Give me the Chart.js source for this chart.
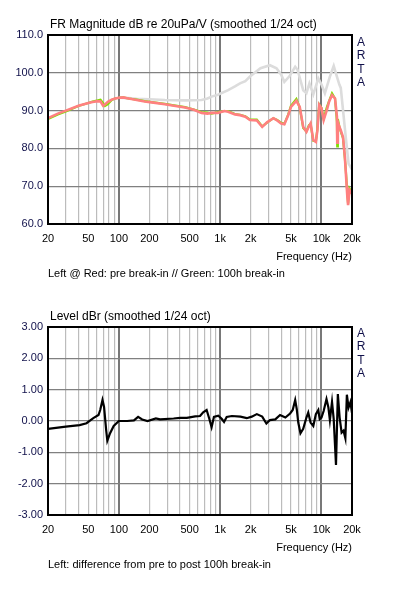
<!DOCTYPE html>
<html>
<head>
<meta charset="utf-8">
<script src="https://cdn.jsdelivr.net/npm/chart.js@4"></script>
<style>
  body { margin: 0; background: #fff; width: 400px; height: 589px; overflow: hidden; position: relative; }
  .box { position: absolute; left: 0; width: 400px; }
  .txt { position: absolute; font-family: "Liberation Sans", Arial, sans-serif; color: #000; white-space: nowrap; }
  .title { font-size: 12px; line-height: 14px; }
  .small { font-size: 11px; line-height: 13px; }
  .arta { font-size: 12px; line-height: 13.3px; color: #10104a; text-align: center; width: 10px; }
</style>
</head>
<body>
<div class="box" style="top:0;height:290px"><canvas id="frChart"></canvas></div>
<div class="box" style="top:290px;height:299px"><canvas id="diffChart"></canvas></div>

<div class="txt title" style="left:50px;top:17px">FR Magnitude dB re 20uPa/V (smoothed 1/24 oct)</div>
<div class="txt arta" style="left:356px;top:36px">A<br>R<br>T<br>A</div>
<div class="txt small" style="right:48px;top:250px">Frequency (Hz)</div>
<div class="txt small" style="left:48px;top:267px">Left @ Red: pre break-in // Green: 100h break-in</div>

<div class="txt title" style="left:50px;top:309px">Level dBr (smoothed 1/24 oct)</div>
<div class="txt arta" style="left:356px;top:327px">A<br>R<br>T<br>A</div>
<div class="txt small" style="right:48px;top:541px">Frequency (Hz)</div>
<div class="txt small" style="left:48px;top:558px">Left: difference from pre to post 100h break-in</div>

<script>
// frequency grid (Hz) and labelled ticks
const gridFreqs = [20, 30, 40, 50, 60, 70, 80, 90, 100, 200, 300, 400, 500, 600, 700, 800, 900,
  1000, 2000, 3000, 4000, 5000, 6000, 7000, 8000, 9000, 10000, 20000];
const decadeFreqs = [100, 1000, 10000];
const tickLabels = { 20: '20', 50: '50', 100: '100', 200: '200', 500: '500', 1000: '1k',
  2000: '2k', 5000: '5k', 10000: '10k', 20000: '20k' };

// FR magnitude, pre and post break-in (dB)
const freqTop = [20, 25, 30, 40, 50, 55, 62, 66, 70, 73, 78, 85, 92, 100, 110, 125, 150, 180, 220, 285,
  350, 450, 550, 655, 750, 823, 950, 1100, 1200, 1400, 1570, 1770, 1970, 2300, 2600, 2900, 3350, 3650,
  4000, 4300, 4700, 5000, 5650, 6100, 6600, 7100, 7500, 7800, 8300, 8800, 9100, 9500, 10000, 10500,
  11300, 11900, 12700, 13600, 14200, 14300, 14500, 15000, 15500, 16300, 17000, 17400, 18000, 18300,
  18900, 20000];
const preBreakIn = [88.0, 89.2, 90.0, 91.3, 92.0, 92.3, 92.5, 92.4, 91.3, 91.6, 92.3, 92.9, 93.2, 93.4,
  93.5, 93.2, 92.8, 92.4, 92.1, 91.7, 91.3, 90.8, 90.2, 89.4, 89.2, 89.4, 89.4, 89.9, 89.7, 89.0, 88.8,
  88.4, 87.5, 87.4, 85.7, 86.9, 88.0, 87.4, 86.6, 86.4, 88.8, 91.0, 92.6, 91.0, 85.7, 84.4, 85.8, 86.6,
  82.2, 81.7, 84.7, 91.5, 90.6, 87.5, 90.2, 92.4, 94.1, 93.2, 88.4, 81.5, 87.0, 85.7, 84.8, 83.0, 77.8,
  73.4, 67.2, 65.0, 69.0, 68.0];
const postBreakIn = [87.8, 89.0, 89.8, 91.2, 92.0, 92.4, 92.7, 92.9, 92.0, 91.2, 91.7, 92.8, 93.2, 93.4,
  93.5, 93.2, 92.9, 92.5, 92.2, 91.8, 91.4, 90.9, 90.3, 89.6, 89.5, 89.2, 89.6, 89.9, 89.9, 89.1, 88.9,
  88.5, 87.6, 87.6, 85.8, 86.8, 88.0, 87.5, 86.8, 86.5, 89.0, 91.3, 93.1, 90.8, 85.4, 84.5, 86.1, 86.5,
  82.0, 81.9, 85.0, 91.6, 90.7, 87.8, 90.9, 92.6, 94.6, 93.2, 87.0, 80.5, 87.8, 85.8, 84.4, 82.7, 77.4,
  74.0, 68.0, 65.4, 69.4, 68.2];

// grey reference trace (dB)
const freqRef = [100, 125, 150, 200, 285, 450, 655, 750, 823, 950, 1200, 1400, 1570, 1770, 1970, 2500,
  3100, 3600, 4000, 4300, 4800, 5500, 5800, 6600, 7100, 7600, 8300, 9300, 10000, 10800, 12100, 13200,
  14000, 15000, 15500, 16300, 17200, 18500, 20000];
const refCurve = [93.4, 93.3, 93.1, 93.0, 92.8, 92.7, 92.8, 93.2, 93.7, 94.2, 95.4, 96.4, 97.2, 97.8,
  99.0, 101.2, 102.0, 101.2, 99.5, 97.6, 99.0, 101.6, 100.8, 95.4, 94.6, 97.2, 94.3, 98.5, 96.9, 94.6,
  99.0, 101.8, 99.5, 96.9, 96.0, 90.2, 84.0, 76.0, 74.4];

// level difference pre -> post (dBr)
const freqDiff = [20, 30, 41, 48, 56, 63, 65.5, 69, 71.5, 75, 77, 82, 89, 100, 121, 141, 155, 170, 192,
  232, 255, 347, 403, 469, 567, 633, 680, 735, 780, 823, 868, 958, 1035, 1092, 1160, 1305, 1585, 1830,
  2050, 2300, 2600, 2860, 3100, 3500, 3900, 4400, 4900, 5200, 5500, 5700, 5900, 6200, 6600, 7100, 7400,
  7800, 8300, 8800, 9300, 9600, 10000, 10500, 11200, 11700, 12100, 12700, 13200, 13900, 14500, 15100,
  15800, 16500, 17200, 17800, 18500, 19300, 20000];
const diffLevel = [-0.25, -0.18, -0.13, -0.07, 0.09, 0.19, 0.35, 0.67, 0.45, -0.29, -0.63, -0.39, -0.16,
  0.0, 0.0, 0.02, 0.13, 0.05, 0.0, 0.08, 0.05, 0.08, 0.1, 0.1, 0.15, 0.16, 0.28, 0.35, 0.08, -0.2, 0.13,
  0.17, 0.07, -0.03, 0.13, 0.16, 0.14, 0.09, 0.14, 0.22, 0.14, -0.08, 0.03, 0.05, 0.19, 0.11, 0.24, 0.35,
  0.67, 0.38, -0.05, -0.39, -0.25, 0.11, 0.27, -0.05, -0.16, 0.22, 0.35, 0.06, 0.11, 0.32, 0.7, 0.43,
  0.03, 0.61, 0.06, -1.4, 0.86, 0.11, -0.37, -0.31, -0.55, 0.84, 0.43, 0.6, 0.25];

const pts = (xs, ys) => xs.map((x, i) => ({ x: x, y: ys[i] }));

// black frame round the plot area
const framePlugin = {
  id: 'frame',
  afterDraw(chart) {
    const a = chart.chartArea;
    const ctx = chart.ctx;
    ctx.save();
    ctx.strokeStyle = '#000';
    ctx.lineWidth = 2;
    ctx.strokeRect(a.left, a.top, a.right - a.left, a.bottom - a.top);
    ctx.restore();
  }
};

function freqAxis(height) {
  return {
    type: 'logarithmic',
    min: 20,
    max: 20000,
    afterBuildTicks: (scale) => { scale.ticks = gridFreqs.map(v => ({ value: v })); },
    afterFit: (scale) => { scale.height = height; },
    border: { display: false },
    grid: {
      drawTicks: false,
      lineWidth: (c) => decadeFreqs.includes(c.tick.value) ? 2 : 1.2,
      color: (c) => decadeFreqs.includes(c.tick.value) ? '#787878' : '#bcbcbc'
    },
    ticks: {
      autoSkip: false,
      maxRotation: 0,
      padding: 8,
      color: '#000',
      font: { family: '"Liberation Sans", Arial, sans-serif', size: 11 },
      callback: (v) => tickLabels[v] || ''
    }
  };
}

function levelAxis(min, max, step, digits) {
  return {
    min: min,
    max: max,
    afterFit: (scale) => { scale.width = 48; },
    border: { display: false },
    grid: { drawTicks: false, color: '#808080', lineWidth: 1.2 },
    ticks: {
      stepSize: step,
      padding: 5,
      color: '#10104a',
      font: { family: '"Liberation Sans", Arial, sans-serif', size: 11 },
      callback: (v) => Number(v).toFixed(digits)
    }
  };
}

const common = {
  responsive: true,
  maintainAspectRatio: false,
  animation: false,
  events: [],
  plugins: { legend: { display: false }, tooltip: { enabled: false } },
  elements: { point: { radius: 0 }, line: { tension: 0 } }
};

new Chart(document.getElementById('frChart'), {
  type: 'line',
  data: {
    datasets: [
      { data: pts(freqTop, preBreakIn), borderColor: '#ff8080', borderWidth: 2.6, order: 1 },
      { data: pts(freqTop, postBreakIn), borderColor: '#80e000', borderWidth: 2.2, order: 2 },
      { data: pts(freqRef, refCurve), borderColor: '#dcdcdc', borderWidth: 2.6, order: 3 }
    ]
  },
  options: Object.assign({}, common, {
    layout: { padding: { left: 0, right: 48, top: 35, bottom: 0 } },
    scales: { x: freqAxis(66), y: levelAxis(60, 110, 10, 1) }
  }),
  plugins: [framePlugin]
});

new Chart(document.getElementById('diffChart'), {
  type: 'line',
  data: {
    datasets: [
      { data: pts(freqDiff, diffLevel), borderColor: '#000', borderWidth: 2.2 }
    ]
  },
  options: Object.assign({}, common, {
    layout: { padding: { left: 0, right: 48, top: 37, bottom: 0 } },
    scales: { x: freqAxis(74), y: levelAxis(-3, 3, 1, 2) }
  }),
  plugins: [framePlugin]
});
</script>
</body>
</html>
